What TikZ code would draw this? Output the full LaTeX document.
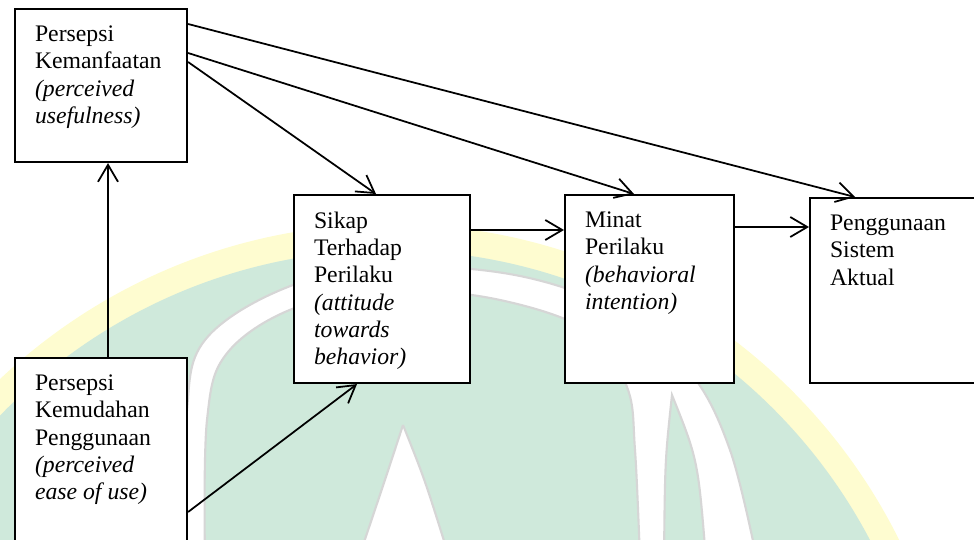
\documentclass[tikz,border=0pt]{standalone}
\usepackage{fontspec}
\setmainfont{Liberation Serif}
\usetikzlibrary{arrows.meta}

\definecolor{wmgreen}{RGB}{207,233,219}
\definecolor{wmyellow}{RGB}{254,252,208}
\definecolor{wmgrey}{RGB}{214,214,214}

% text of a box: width, height, lines
\newcommand{\boxtext}[3]{\parbox[t][#2][t]{#1}{\raggedright #3}}

\begin{document}
\begin{tikzpicture}[%
  x=0.02cm, y=-0.02cm,
  box/.style={rectangle, draw, fill=white, line width=1.2pt, anchor=north west,
    inner xsep=0.4cm, inner ysep=0.34cm, font=\fontsize{13.5}{15.5}\selectfont},
  arr/.style={-{Straight Barb[length=0.34cm, width=0.4cm]}, line width=1pt},
  wmline/.style={draw=wmgrey, line width=1.2pt},
  ]
  \useasboundingbox (0,0) rectangle (974,540);
  % watermark in the background
  \begin{scope}
    \clip (0,0) rectangle (974,540);
    \fill[wmyellow] (390,792) circle (568);
    \fill[wmgreen] (390,792) circle (542);
    \fill[white, wmline]
      plot[smooth, tension=0.6] coordinates {(180,560) (186,420) (205,340) (293,285) (400,267)
        (520,276) (620,312) (690,372) (730,450) (757,560)}
      -- plot[smooth, tension=0.6] coordinates {(640,560) (635,450) (627,387) (590,332) (500,300)
        (400,291) (300,306) (228,352) (207,420) (205,560)}
      -- cycle;
    \fill[wmgreen, wmline] (664,560) .. controls (665,460) .. (672,395) .. controls (698,460) .. (706,560) -- cycle;
    \fill[white, wmline] (403,425) .. controls (385,480) .. (358,560)
      -- (450,560) .. controls (425,480) .. (403,425);
  \end{scope}
  {
    \node[box] (kemanfaatan) at (14,8)
      {\boxtext{2.64cm}{2.38cm}{Persepsi\\ Kemanfaatan\\ {\itshape (perceived\\ usefulness)}}};
    \node[box] (kemudahan) at (14,357)
      {\boxtext{2.64cm}{3.4cm}{Persepsi\\ Kemudahan\\ Penggunaan\\ {\itshape (perceived\\ ease of use)}}};
    \node[box] (sikap) at (293,194)
      {\boxtext{2.72cm}{3.08cm}{Sikap\\ Terhadap\\ Perilaku\\ {\itshape (attitude\\ towards\\ behavior)}}};
    \node[box] (minat) at (564,194)
      {\boxtext{2.58cm}{3.08cm}{Minat\\ Perilaku\\ {\itshape (behavioral\\ intention)}}};
    \node[box] (aktual) at (809,197)
      {\boxtext{3.0cm}{3.02cm}{Penggunaan\\ Sistem\\ Aktual}};
    \draw[arr] (kemudahan.north -| 108,0) -- (kemanfaatan.south -| 108,0);
    \draw[arr] (kemanfaatan.east |- 0,24) -- (aktual.north -| 855,0);
    \draw[arr] (kemanfaatan.east |- 0,53) -- (minat.north -| 634,0);
    \draw[arr] (kemanfaatan.east |- 0,62) -- (sikap.north -| 376,0);
    \draw[arr] (kemudahan.east |- 0,512) -- (sikap.south -| 357,0);
    \draw[arr] (sikap.east |- 0,230) -- (minat.west |- 0,230);
    \draw[arr] (minat.east |- 0,227) -- (aktual.west |- 0,227);
  }
\end{tikzpicture}
\end{document}
